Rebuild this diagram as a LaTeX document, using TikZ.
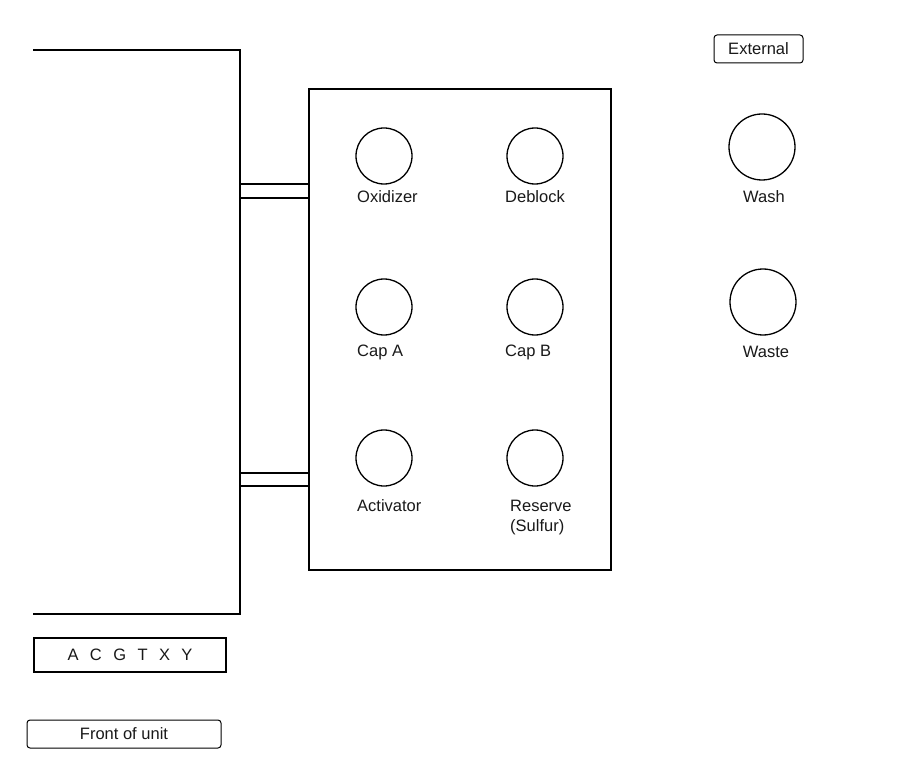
\documentclass[tikz,border=0pt]{standalone}
\usepackage{fontspec}
\setmainfont{Liberation Sans}
\begin{document}
\begin{tikzpicture}[x=1pt,y=-1pt,
  every node/.style={font=\fontsize{16.5}{20}\selectfont, text=black!90},
  heavy/.style={line width=2pt},
  port/.style={circle, draw, line width=1.3pt, inner sep=0pt, minimum size=56pt},
  bigport/.style={port, minimum size=66pt},
  lbl/.style={anchor=west, inner sep=0pt},
  tag/.style={draw, line width=1pt, rounded corners=3pt, inner sep=0pt}]
\useasboundingbox (0,0) rectangle (899,767);
\fill[white] (0,0) rectangle (899,767);
% left bracket
\coordinate (bt) at (33,50);
\coordinate (bb) at (33,614);
\coordinate (vt) at (240,50);
\coordinate (vb) at (240,614);
\draw[heavy] (bt) -- (vt) -- (vb) -- (bb);
% main box
\node[draw, heavy, minimum width=302pt, minimum height=481pt, inner sep=0pt] (box) at (460,329.5) {};
% connector bars
\coordinate (a1) at (240,184); \coordinate (b1) at (box.west |- a1);
\coordinate (a2) at (240,198); \coordinate (b2) at (box.west |- a2);
\coordinate (a3) at (240,473); \coordinate (b3) at (box.west |- a3);
\coordinate (a4) at (240,486); \coordinate (b4) at (box.west |- a4);
\draw[heavy] (a1) -- (b1);
\draw[heavy] (a2) -- (b2);
\draw[heavy] (a3) -- (b3);
\draw[heavy] (a4) -- (b4);
% ports
\node[port] (ox) at (384,156) {};
\node[port] (db) at (535,156) {};
\node[port] (ca) at (384,307) {};
\node[port] (cb) at (535,307) {};
\node[port] (ac) at (384,458) {};
\node[port] (rs) at (535,458) {};
\node[bigport] (wash) at (762,147) {};
\node[bigport] (waste) at (763,302) {};
% labels
\node[lbl] (oxl) at (357,197) {Oxidizer};
\node[lbl] (dbl) at (505,197) {Deblock};
\node[lbl] (cal) at (357,352) {Cap A};
\node[lbl] (cbl) at (505,352) {Cap B};
\node[lbl] (acl) at (357,506) {Activator};
\node[anchor=north west, inner sep=0pt, align=left] (rsl) at (510,500) {Reserve\\(Sulfur)};
\node[inner sep=0pt] (washl) at (764,197) {Wash};
\node[inner sep=0pt] (wastel) at (766,352) {Waste};
% tags
\node[tag, minimum width=89pt, minimum height=28pt] (ext) at (758.5,49) {External};
\node[draw, heavy, minimum width=192pt, minimum height=34pt, inner sep=0pt] (acgt) at (130,655) {A\hspace{11.4pt}C\hspace{11.4pt}G\hspace{11.4pt}T\hspace{11.4pt}X\hspace{11.4pt}Y};
\node[tag, minimum width=194pt, minimum height=28pt] (front) at (124,734) {Front of unit};
\end{tikzpicture}
\end{document}
